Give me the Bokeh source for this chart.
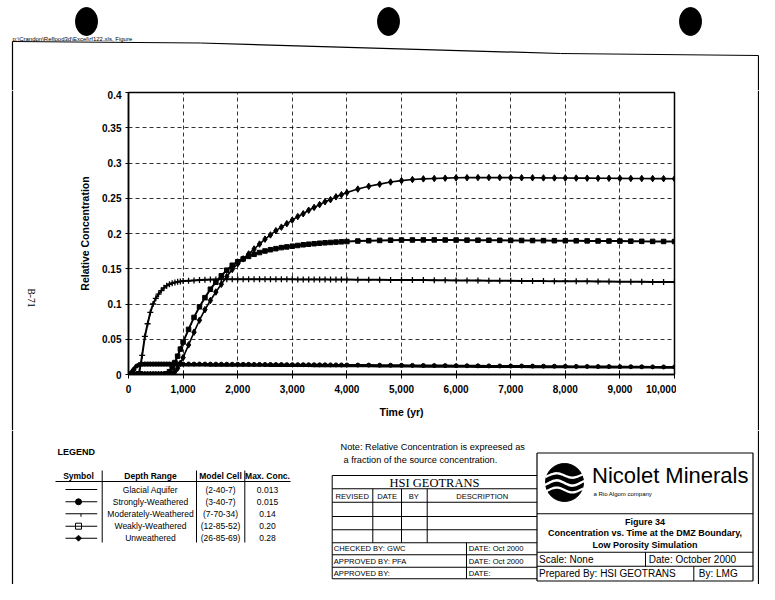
import numpy as np
from bokeh.plotting import figure
from bokeh.layouts import column, row
from bokeh.models import FixedTicker, NumeralTickFormatter, Range1d
from bokeh.core.properties import value
from bokeh.embed import file_html
from bokeh.resources import INLINE

# ---------------- data ----------------
TIME = [0, 50, 100, 150, 200, 250, 300, 350, 400, 450, 500, 550, 600, 650, 700, 750, 800, 850, 900, 950, 1000,
        1100, 1200, 1300, 1400, 1500, 1600, 1700, 1800, 1900, 2000, 2100, 2200, 2300, 2400, 2500,
        2600, 2700, 2800, 2900, 3000, 3100, 3200, 3300, 3400, 3500, 3600, 3700, 3800, 3900, 4000,
        4200, 4400, 4600, 4800, 5000, 5200, 5400, 5600, 5800, 6000, 6200, 6400, 6600, 6800, 7000,
        7200, 7400, 7600, 7800, 8000, 8200, 8400, 8600, 8800, 9000, 9200, 9400, 9600, 9800, 10000]

GLACIAL = [0, 0.005, 0.010, 0.0125, 0.013, 0.013, 0.013, 0.013, 0.013, 0.013, 0.013, 0.013, 0.013, 0.013,
           0.013, 0.013, 0.013, 0.0129, 0.0129, 0.0129, 0.0129,
           0.0129, 0.0128, 0.0128, 0.0128, 0.0127, 0.0127, 0.0127, 0.0126, 0.0126, 0.0126, 0.0125, 0.0125,
           0.0125, 0.0124, 0.0124, 0.0123, 0.0123, 0.0123, 0.0122, 0.0122, 0.0122, 0.0121, 0.0121, 0.0120,
           0.0120, 0.0120, 0.0119, 0.0119, 0.0118, 0.0118,
           0.0117, 0.0117, 0.0116, 0.0115, 0.0114, 0.0114, 0.0113, 0.0112, 0.0111, 0.0111, 0.0110, 0.0109,
           0.0109, 0.0108, 0.0107, 0.0107, 0.0106, 0.0105, 0.0105, 0.0104, 0.0103, 0.0103, 0.0102, 0.0101,
           0.0101, 0.0100, 0.0099, 0.0099, 0.0098, 0.0097]

STRONGLY = [0, 0.002, 0.007, 0.012, 0.0142, 0.0148, 0.015, 0.015, 0.015, 0.015, 0.015, 0.015, 0.015, 0.015,
            0.015, 0.015, 0.015, 0.0149, 0.0149, 0.0149, 0.0149,
            0.0149, 0.0148, 0.0148, 0.0148, 0.0147, 0.0147, 0.0146, 0.0146, 0.0145, 0.0145, 0.0144, 0.0144,
            0.0143, 0.0143, 0.0142, 0.0142, 0.0141, 0.0141, 0.0140, 0.0140, 0.0139, 0.0139, 0.0138, 0.0138,
            0.0137, 0.0137, 0.0136, 0.0136, 0.0135, 0.0135,
            0.0134, 0.0133, 0.0132, 0.0131, 0.0130, 0.0129, 0.0128, 0.0127, 0.0126, 0.0125, 0.0124, 0.0123,
            0.0122, 0.0121, 0.0120, 0.0120, 0.0119, 0.0118, 0.0117, 0.0116, 0.0115, 0.0114, 0.0113, 0.0112,
            0.0111, 0.0110, 0.0109, 0.0108, 0.0107, 0.0106]

MODERATELY = [0, 0, 0, 0, 0.004, 0.027, 0.054, 0.072, 0.088, 0.100, 0.108, 0.114, 0.119, 0.123, 0.126,
              0.128, 0.1295, 0.1305, 0.1315, 0.132, 0.1325,
              0.133, 0.1335, 0.134, 0.1343, 0.1346, 0.1348, 0.135, 0.135, 0.135, 0.135, 0.135, 0.135,
              0.135, 0.135, 0.135, 0.135, 0.135, 0.135, 0.135, 0.135, 0.1349, 0.1349, 0.1349, 0.1348,
              0.1348, 0.1348, 0.1347, 0.1347, 0.1346, 0.1346,
              0.1345, 0.1344, 0.1343, 0.1342, 0.1341, 0.1340, 0.1339, 0.1337, 0.1336, 0.1335, 0.1334, 0.1333,
              0.1331, 0.1330, 0.1329, 0.1328, 0.1327, 0.1325, 0.1324, 0.1323, 0.1322, 0.1321, 0.1319, 0.1318,
              0.1317, 0.1316, 0.1315, 0.1313, 0.1312, 0.1311]

WEAKLY = [0, 0, 0, 0, 0, 0, 0, 0, 0, 0, 0, 0, 0, 0, 0.001, 0.004, 0.010, 0.017, 0.026, 0.036, 0.046,
          0.064, 0.081, 0.096, 0.109, 0.121, 0.131, 0.140, 0.148, 0.155, 0.160, 0.164, 0.1675, 0.1705,
          0.173, 0.1752, 0.177, 0.1785, 0.180, 0.181, 0.182, 0.183, 0.184, 0.1848, 0.1855, 0.1862, 0.1868,
          0.1873, 0.1878, 0.1882, 0.1886,
          0.1893, 0.1898, 0.1902, 0.1905, 0.1907, 0.1908, 0.1909, 0.1909, 0.1908, 0.1907, 0.1906, 0.1905,
          0.1904, 0.1903, 0.1902, 0.1901, 0.1900, 0.1899, 0.1898, 0.1897, 0.1896, 0.1895, 0.1894, 0.1893,
          0.1892, 0.1891, 0.1889, 0.1888, 0.1887, 0.1886]

UNWEATHERED = [0, 0, 0, 0, 0, 0, 0, 0, 0, 0, 0, 0, 0, 0, 0, 0, 0.001, 0.004, 0.009, 0.016, 0.024,
               0.042, 0.060, 0.077, 0.092, 0.105, 0.117, 0.128, 0.139, 0.149, 0.157, 0.164, 0.171, 0.178,
               0.185, 0.192, 0.198, 0.204, 0.209, 0.214, 0.219, 0.224, 0.228, 0.233, 0.237, 0.241, 0.245,
               0.248, 0.252, 0.255, 0.258,
               0.263, 0.267, 0.270, 0.273, 0.275, 0.2765, 0.2775, 0.278, 0.2785, 0.279, 0.2792, 0.2793,
               0.2793, 0.2793, 0.2792, 0.2791, 0.279, 0.2789, 0.2788, 0.2787, 0.2786, 0.2785, 0.2784,
               0.2783, 0.2782, 0.2781, 0.278, 0.2779, 0.2778, 0.2777]

for s in (GLACIAL, STRONGLY, MODERATELY, WEAKLY, UNWEATHERED):
    assert len(s) == len(TIME), len(s)

X_TICKS = [0, 1000, 2000, 3000, 4000, 5000, 6000, 7000, 8000, 9000, 10000]
Y_TICKS = [0, 0.05, 0.1, 0.15, 0.2, 0.25, 0.3, 0.35, 0.4]
Y_TICK_LABELS = ["0", "0.05", "0.1", "0.15", "0.2", "0.25", "0.3", "0.35", "0.4"]

LEGEND_RANGES = ["Glacial Aquifer", "Strongly-Weathered", "Moderately-Weathered", "Weakly-Weathered", "Unweathered"]
LEGEND_CELLS = ["(2-40-7)", "(3-40-7)", "(7-70-34)", "(12-85-52)", "(26-85-69)"]
LEGEND_MAX = ["0.013", "0.015", "0.14", "0.20", "0.28"]

SANS = "Liberation Sans"
SERIF = "Liberation Serif"

W, H = 759, 584
TOP_H = 90          # height of strip above the chart
MID_B = 430         # page y where the chart row ends
LEFT_W = 70         # width of strip left of the chart figure
RIGHT_X = 676       # page x where the right strip starts


def no_align(f):
    try:
        f.frame_align = False
    except Exception:
        pass


# ---------------- chart figure ----------------
chart = figure(width=RIGHT_X - LEFT_W, height=MID_B - TOP_H, output_backend="svg", toolbar_location=None,
               x_range=Range1d(0, 10000), y_range=Range1d(0, 0.4),
               min_border_left=58, min_border_right=2, min_border_top=2, min_border_bottom=56)
no_align(chart)
chart.background_fill_color = "white"
chart.border_fill_color = "white"
chart.outline_line_color = "black"
chart.outline_line_width = 1.5

chart.xaxis.ticker = FixedTicker(ticks=X_TICKS)
chart.xaxis.formatter = NumeralTickFormatter(format="0,0")
chart.yaxis.ticker = FixedTicker(ticks=Y_TICKS)
chart.yaxis.major_label_overrides = {v: t for v, t in zip(Y_TICKS, Y_TICK_LABELS)}
for ax in (chart.xaxis[0], chart.yaxis[0]):
    ax.axis_line_color = "black"
    ax.axis_line_width = 1.5
    ax.major_tick_line_color = "black"
    ax.minor_tick_line_color = None
    ax.major_label_text_font = SANS
    ax.major_label_text_font_size = "10px"
    ax.major_label_text_font_style = "bold"
    ax.major_label_text_color = "black"
    ax.axis_label_text_font = SANS
    ax.axis_label_text_font_size = "10.5px"
    ax.axis_label_text_font_style = "bold"
    ax.axis_label_text_color = "black"
chart.xaxis.axis_label = "Time (yr)"
chart.yaxis.axis_label = "Relative Concentration"
chart.xaxis.major_tick_in = 4
chart.xaxis.major_tick_out = 4
chart.yaxis.major_tick_in = 0
chart.yaxis.major_tick_out = 3
chart.xaxis.major_label_standoff = 6
chart.xaxis.axis_label_standoff = 10
chart.yaxis.major_label_standoff = 4
chart.yaxis.axis_label_standoff = 8

for g in (chart.xgrid[0], chart.ygrid[0]):
    g.grid_line_color = "black"
    g.grid_line_dash = "4 3"
    g.grid_line_width = 0.8

chart.line(TIME, GLACIAL, line_color="black", line_width=2.2)
chart.line(TIME, STRONGLY, line_color="black", line_width=2)
chart.scatter(TIME, STRONGLY, marker="circle", size=4, fill_color="black", line_color="black")
chart.line(TIME, MODERATELY, line_color="black", line_width=2)
chart.scatter(TIME, MODERATELY, marker="cross", size=6, line_color="black", line_width=1.3)
chart.line(TIME, WEAKLY, line_color="black", line_width=2)
chart.scatter(TIME, WEAKLY, marker="square", size=4.5, fill_color="black", line_color="black")
chart.line(TIME, UNWEATHERED, line_color="black", line_width=1.6)
chart.scatter(TIME, UNWEATHERED, marker="diamond", size=6.5, fill_color="black", line_color="black")


# ---------------- decoration strips (page-pixel coordinates) ----------------
BOUNDS = {}


def deco_fig(name, x0, x1, y0, y1):
    f = figure(width=x1 - x0, height=y1 - y0, output_backend="svg", toolbar_location=None,
               x_range=Range1d(x0, x1), y_range=Range1d(y1, y0),
               x_axis_type=None, y_axis_type=None, min_border=0,
               min_border_left=0, min_border_right=0, min_border_top=0, min_border_bottom=0)
    no_align(f)
    f.outline_line_color = None
    f.background_fill_color = "white"
    f.border_fill_color = "white"
    BOUNDS[name] = (f, x0, x1, y0, y1)
    return f


top = deco_fig("top", 0, W, 0, TOP_H)
left = deco_fig("left", 0, LEFT_W, TOP_H, MID_B)
right = deco_fig("right", RIGHT_X, W, TOP_H, MID_B)
bottom = deco_fig("bottom", 0, W, MID_B, H)


def pick(px, py):
    for f, x0, x1, y0, y1 in BOUNDS.values():
        if x0 <= px < x1 and y0 <= py < y1:
            return f
    return bottom


RULES = []    # axis-aligned rules drawn as thin filled bars
SLANTS = []   # sloped lines


def seg(x1, y1, x2, y2, lw=1.0):
    if x1 == x2 or y1 == y2:
        RULES.append((min(x1, x2) - (lw / 2 if x1 == x2 else 0), max(x1, x2) + (lw / 2 if x1 == x2 else 0),
                      min(y1, y2) - (lw / 2 if y1 == y2 else 0), max(y1, y2) + (lw / 2 if y1 == y2 else 0)))
    else:
        SLANTS.append((x1, y1, x2, y2, lw))


def text(px, py, s, size, bold=False, align="left", font=SANS, angle=0.0, baseline="middle"):
    f = pick(px, py)
    f.text(x=[px], y=[py], text=[s], text_font=value(font), text_font_size=f"{size}px",
           text_font_style="bold" if bold else "normal", text_align=align,
           text_baseline=baseline, text_color="black", angle=angle)


def patch(pts, fill="black", line=None, lw=1.0):
    f = pick(*pts[0])
    f.patch([x for x, y in pts], [y for x, y in pts], fill_color=fill,
            line_color=line, line_width=lw)


# hole punches
top.ellipse(x=[86, 388, 690], y=[21, 21, 21], width=22, height=28, fill_color="black", line_color="black")

# file name and outer border (slightly skewed scan)
text(12, 38.5, "p:\\Crandon\\Reflood3d\\Excel\\rf122.xls, Figure", 6)
BORDER_TOP = [(12, 41), (200, 42.5), (560, 53), (758, 55)]
for (ax_, ay_), (bx_, by_) in zip(BORDER_TOP[:-1], BORDER_TOP[1:]):
    seg(ax_, ay_, bx_, by_, 1.2)
seg(12, 41, 12, 600, 1.2)
seg(758, 55, 758, 600, 1.2)

text(30.5, 297.5, "B-71", 9.5, font=SERIF, align="center", angle=-np.pi / 2)

# legend table
text(57, 451, "LEGEND", 9, bold=True)
for cx, s in ((78, "Symbol"), (150, "Depth Range"), (220, "Model Cell"), (267, "Max. Conc.")):
    text(cx, 475.5, s, 8.5, bold=True, align="center")
seg(55, 481, 290, 481, 1.2)
for x in (101.7, 196, 244.3):
    seg(x, 470, x, 542, 1.0)
ROWS = [489, 501.3, 513.3, 525.7, 537.7]
for i, ry in enumerate(ROWS):
    text(150, ry, LEGEND_RANGES[i], 8.5, align="center")
    text(220, ry, LEGEND_CELLS[i], 8.5, align="center")
    text(267, ry, LEGEND_MAX[i], 8.5, align="center")
    seg(65, ry, 96.7, ry, 1.0)
bottom.ellipse(x=[78], y=[ROWS[1]], width=6, height=6, fill_color="black", line_color="black")
seg(80.5, ROWS[2], 80.5, ROWS[2] + 3, 1.0)
patch([(75, ROWS[3] - 3), (81, ROWS[3] - 3), (81, ROWS[3] + 3), (75, ROWS[3] + 3)],
      fill="white", line="black", lw=1.0)
patch([(78, ROWS[4] - 3), (81, ROWS[4]), (78, ROWS[4] + 3), (75, ROWS[4])],
      fill="black", line="black", lw=0.8)

# note
text(340, 446.5, "Note: Relative Concentration is expreesed as", 9.2)
text(343, 459, "a fraction of the source concentration.", 9.2)

# HSI GEOTRANS block
L, R = 331.7, 536.5
seg(L, 475, R, 475)
seg(L, 475, L, 578.3)
seg(L, 578.3, R, 578.3)
for y in (488.3, 501.7, 516, 529.3, 542.3, 554.3, 566.7):
    seg(L, y, R, y)
for x in (372.3, 401, 426.7):
    seg(x, 488.3, x, 542.3)
seg(466, 542.3, 466, 578.3)
text(434, 482, "HSI GEOTRANS", 12.5, font=SERIF, align="center")
for cx, s in ((351.7, "REVISED"), (386.7, "DATE"), (413.3, "BY"), (481.7, "DESCRIPTION")):
    text(cx, 495.5, s, 7.6, align="center")
text(333.3, 548.3, "CHECKED BY: GWC", 7.6)
text(468.3, 548.3, "DATE:  Oct 2000", 7.6)
text(333.3, 560.6, "APPROVED BY:  PFA", 7.6)
text(468.3, 560.6, "DATE:  Oct 2000", 7.6)
text(333.3, 572.5, "APPROVED BY:", 7.6)
text(468.3, 572.5, "DATE:", 7.6)

# Nicolet block
NL, NR, NT, NB = 536.5, 752.5, 452.5, 580.5
seg(NL, NT, NR, NT, 1.2)
seg(NL, NB, NR, NB, 1.2)
seg(NL, NT, NL, NB, 1.2)
seg(NR, NT, NR, NB, 1.2)
seg(NL, 513.3, NR, 513.3)
seg(NL, 551.7, NR, 551.7)
seg(NL, 565.7, NR, 565.7)
seg(645, 551.7, 645, 565.7)
seg(693.3, 565.7, 693.3, 580.5)

# logo: black disc with white waves
LX, LY, LR = 564, 482, 19
bottom.ellipse(x=[LX], y=[LY], width=2 * LR, height=2 * LR, fill_color="black", line_color="black")
for off, amp, th in ((-7, 2.2, 2.4), (0.5, 2.6, 2.6), (7.5, 2.4, 2.4)):
    half = np.sqrt(max(LR ** 2 - off ** 2, 0)) + 1
    xs = np.linspace(LX - half, LX + half, 30)
    mid = LY + off + amp * np.sin((xs - LX) / 5.0)
    pts = list(zip(xs, mid - th / 2)) + list(zip(xs[::-1], (mid + th / 2)[::-1]))
    patch(pts, fill="white", line=None)
text(591.5, 475, "Nicolet Minerals", 22)
text(593, 493.5, "a Rio Algom company", 6)
text(644.5, 521.7, "Figure 34", 9, bold=True, align="center")
text(644.5, 532.8, "Concentration vs. Time at the DMZ Boundary,", 9, bold=True, align="center")
text(644.5, 544, "Low Porosity Simulation", 9, bold=True, align="center")
text(538.5, 558.5, "Scale:  None", 10)
text(648.3, 558.5, "Date: October 2000", 10)
text(538.5, 573.3, "Prepared By:  HSI GEOTRANS", 10)
text(698.3, 573.3, "By:  LMG", 10)

# white masks along the seam between the chart row and the bottom strip
for f, x0, x1, y0, y1 in BOUNDS.values():
    f.quad(left=[13], right=[757.3], top=[MID_B - 2.5], bottom=[MID_B + 2.5],
           fill_color="white", line_color=None)

# rules: clipped thin bars, placed in every strip that they cross
for f, x0, x1, y0, y1 in BOUNDS.values():
    bars = []
    for l_, r_, t_, b_ in RULES:
        cl, cr, ct, cb = max(l_, x0), min(r_, x1), max(t_, y0), min(b_, y1)
        if cl < cr and ct < cb:
            bars.append((cl, cr, ct, cb))
    if bars:
        f.quad(left=[b[0] for b in bars], right=[b[1] for b in bars],
               top=[b[2] for b in bars], bottom=[b[3] for b in bars],
               fill_color="black", line_color=None)
top.segment(x0=[s[0] for s in SLANTS], y0=[s[1] for s in SLANTS], x1=[s[2] for s in SLANTS],
            y1=[s[3] for s in SLANTS], line_color="black", line_width=1.2)

layout = column(top, row(left, chart, right, spacing=0), bottom, spacing=0)
open("out.html", "w").write(file_html(layout, INLINE))
